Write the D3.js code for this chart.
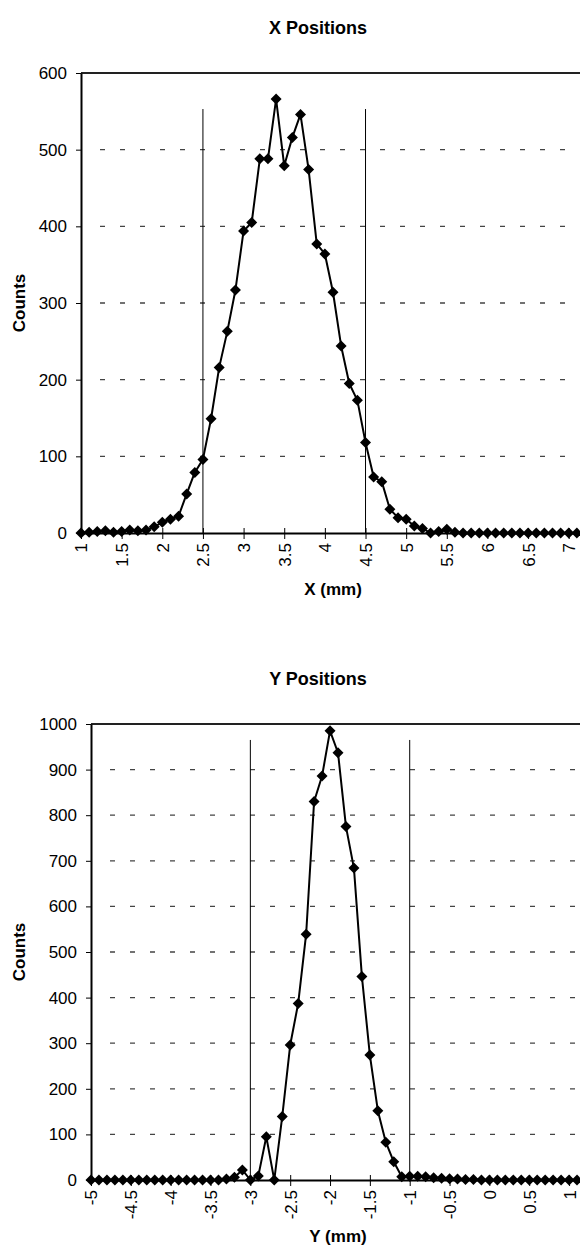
<!DOCTYPE html>
<html>
<head>
<meta charset="utf-8">
<script src="https://cdn.jsdelivr.net/npm/d3@7"></script>
<style>
  body { margin: 0; background: #fff; }
  svg { display: block; }
  text { font-family: "Liberation Sans", Arial, sans-serif; fill: #000; }
</style>
</head>
<body>
<div id="chart"></div>
<script>
// ===== data =====
const xPos = [1.0, 1.1, 1.2, 1.3, 1.4, 1.5, 1.6, 1.7, 1.8, 1.9,
  2.0, 2.1, 2.2, 2.3, 2.4, 2.5, 2.6, 2.7, 2.8, 2.9,
  3.0, 3.1, 3.2, 3.3, 3.4, 3.5, 3.6, 3.7, 3.8, 3.9,
  4.0, 4.1, 4.2, 4.3, 4.4, 4.5, 4.6, 4.7, 4.8, 4.9,
  5.0, 5.1, 5.2, 5.3, 5.4, 5.5, 5.6, 5.7, 5.8, 5.9,
  6.0, 6.1, 6.2, 6.3, 6.4, 6.5, 6.6, 6.7, 6.8, 6.9,
  7.0, 7.1];
const xCounts = [0, 1, 2, 3, 1, 2, 4, 3, 4, 8,
  14, 18, 22, 51, 79, 96, 149, 216, 263, 317,
  394, 405, 488, 488, 566, 479, 516, 546, 474, 377,
  364, 314, 244, 195, 173, 118, 73, 67, 31, 20,
  18, 9, 6, 0, 2, 5, 1, 0, 0, 0,
  0, 0, 0, 0, 0, 0, 0, 0, 0, 0,
  0, 0];
const xTickVals = [1, 1.5, 2, 2.5, 3, 3.5, 4, 4.5, 5, 5.5, 6, 6.5, 7];
const xTickLabels = ["1", "1.5", "2", "2.5", "3", "3.5", "4", "4.5", "5", "5.5", "6", "6.5", "7"];
const xCountTicks = [0, 100, 200, 300, 400, 500, 600];
const xLimits = [2.5, 4.5];
const xLimitTop = 553;

const yPos = [-5.0, -4.9, -4.8, -4.7, -4.6, -4.5, -4.4, -4.3, -4.2, -4.1,
  -4.0, -3.9, -3.8, -3.7, -3.6, -3.5, -3.4, -3.3, -3.2, -3.1,
  -3.0, -2.9, -2.8, -2.7, -2.6, -2.5, -2.4, -2.3, -2.2, -2.1,
  -2.0, -1.9, -1.8, -1.7, -1.6, -1.5, -1.4, -1.3, -1.2, -1.1,
  -1.0, -0.9, -0.8, -0.7, -0.6, -0.5, -0.4, -0.3, -0.2, -0.1,
  0.0, 0.1, 0.2, 0.3, 0.4, 0.5, 0.6, 0.7, 0.8, 0.9,
  1.0, 1.1];
const yCounts = [0, 0, 0, 0, 0, 0, 0, 0, 0, 0,
  0, 0, 0, 0, 0, 0, 0, 2, 6, 22,
  0, 9, 95, 0, 139, 296, 387, 539, 830, 886,
  985, 937, 775, 684, 446, 274, 152, 83, 40, 7,
  8, 8, 7, 5, 4, 3, 2, 1, 1, 0,
  0, 0, 0, 0, 0, 0, 0, 0, 0, 0,
  0, 0];
const yTickVals = [-5, -4.5, -4, -3.5, -3, -2.5, -2, -1.5, -1, -0.5, 0, 0.5, 1];
const yTickLabels = ["-5", "-4.5", "-4", "-3.5", "-3", "-2.5", "-2", "-1.5", "-1", "-0.5", "0", "0.5", "1"];
const yCountTicks = [0, 100, 200, 300, 400, 500, 600, 700, 800, 900, 1000];
const yLimits = [-3, -1];
const yLimitTop = 965;

(function () {
    const W = 580, H = 1252;
    const FONT = 17;

    const svg = d3.select('#chart').append('svg')
        .attr('width', W).attr('height', H);

    function panel(o) {
        const x = d3.scaleLinear().domain(o.xDomain).range([o.left, o.right]);
        const y = d3.scaleLinear().domain([0, o.yMax]).range([o.bottom, o.top]);
        const g = svg.append('g');

        // 点線グリッド
        g.selectAll('line.grid')
            .data(o.yTicks.filter(v => v > 0 && v < o.yMax))
            .join('line')
            .attr('class', 'grid')
            .attr('x1', o.left + 4).attr('x2', o.right)
            .attr('y1', d => y(d)).attr('y2', d => y(d))
            .attr('stroke', '#444').attr('stroke-width', 1.3)
            .attr('stroke-dasharray', '5,15').attr('stroke-dashoffset', 5);

        // 範囲の縦線
        g.selectAll('line.limit')
            .data(o.limits)
            .join('line')
            .attr('class', 'limit')
            .attr('x1', d => x(d)).attr('x2', d => x(d))
            .attr('y1', y(o.limitTop)).attr('y2', y(0))
            .attr('stroke', '#000').attr('stroke-width', 1);

        // 上枠
        g.append('line')
            .attr('x1', o.left).attr('x2', o.right)
            .attr('y1', o.top).attr('y2', o.top)
            .attr('stroke', '#222').attr('stroke-width', 2);

        // 縦軸
        const yAxis = d3.axisLeft(y).tickValues(o.yTicks)
            .tickSizeInner(5).tickSizeOuter(0).tickPadding(9)
            .tickFormat(d3.format('d'));
        const ya = g.append('g').attr('transform', `translate(${o.left},0)`).call(yAxis);
        ya.select('.domain').attr('stroke', '#000').attr('stroke-width', 2);
        ya.selectAll('.tick line').attr('stroke', '#000');
        ya.selectAll('text').style('font-size', FONT + 'px')
            .style('font-family', '"Liberation Sans", Arial, sans-serif');

        // 横軸
        const xAxis = d3.axisBottom(x).tickValues(o.xTicks)
            .tickSizeInner(6).tickSizeOuter(0)
            .tickFormat((d, i) => o.xLabels[i]);
        const xa = g.append('g').attr('transform', `translate(0,${o.bottom})`).call(xAxis);
        xa.select('.domain').attr('stroke', '#000').attr('stroke-width', 2);
        xa.selectAll('.tick line').attr('stroke', '#000').attr('y1', -5);
        xa.selectAll('text')
            .style('font-size', FONT + 'px')
            .style('font-family', '"Liberation Sans", Arial, sans-serif')
            .attr('text-anchor', 'end')
            .attr('transform', 'rotate(-90)')
            .attr('x', -10).attr('y', 0).attr('dy', '0.35em');

        // 折れ線
        const pts = o.cats.map((c, i) => ({ c, v: o.vals[i] }));
        g.append('path')
            .datum(pts)
            .attr('fill', 'none').attr('stroke', '#000').attr('stroke-width', 2)
            .attr('stroke-linejoin', 'round')
            .attr('d', d3.line().x(d => x(d.c)).y(d => y(d.v)));

        // ひし形マーカー
        const r = 5.5;
        g.selectAll('path.mk')
            .data(pts)
            .join('path')
            .attr('class', 'mk')
            .attr('d', `M0,${-r}L${r},0L0,${r}L${-r},0Z`)
            .attr('transform', d => `translate(${x(d.c)},${y(d.v)})`)
            .attr('fill', '#000');

        // タイトル・軸ラベル
        svg.append('text')
            .attr('x', o.titleX).attr('y', o.titleY)
            .attr('text-anchor', 'middle')
            .style('font-size', '18px').style('font-weight', 'bold')
            .text(o.title);

        svg.append('text')
            .attr('x', (o.left + o.right) / 2).attr('y', o.bottom + 62)
            .attr('text-anchor', 'middle')
            .style('font-size', FONT + 'px').style('font-weight', 'bold')
            .text(o.xTitle);

        const cy = (o.top + o.bottom) / 2;
        svg.append('text')
            .attr('x', 25).attr('y', cy)
            .attr('text-anchor', 'middle')
            .attr('transform', `rotate(-90, 25, ${cy})`)
            .style('font-size', FONT + 'px').style('font-weight', 'bold')
            .text('Counts');
    }

    panel({
        left: 81, right: 585, top: 73, bottom: 533,
        xDomain: [1, 7.2], yMax: 600,
        cats: xPos, vals: xCounts,
        xTicks: xTickVals, xLabels: xTickLabels, yTicks: xCountTicks,
        limits: xLimits, limitTop: xLimitTop,
        title: 'X Positions', titleX: 318, titleY: 34, xTitle: 'X (mm)'
    });

    panel({
        left: 91, right: 585, top: 724, bottom: 1180,
        xDomain: [-5, 1.2], yMax: 1000,
        cats: yPos, vals: yCounts,
        xTicks: yTickVals, xLabels: yTickLabels, yTicks: yCountTicks,
        limits: yLimits, limitTop: yLimitTop,
        title: 'Y Positions', titleX: 318, titleY: 685, xTitle: 'Y (mm)'
    });
})();
</script>
</body>
</html>
